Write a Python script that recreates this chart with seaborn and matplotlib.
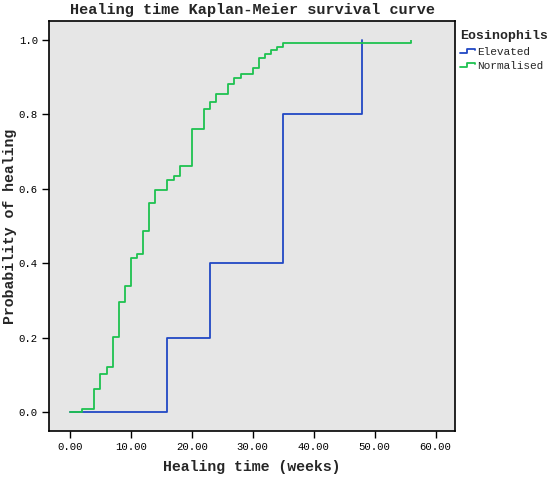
# Kaplan-Meier style cumulative healing curves by eosinophil group

import pandas as pd
import seaborn as sns
import matplotlib.pyplot as plt
from matplotlib.legend_handler import HandlerBase
from matplotlib.lines import Line2D

# --- data ---
elevated_time = [0, 16, 23, 35, 48]
elevated_prob = [0.0, 0.2, 0.4, 0.8, 1.0]

normalised_time = [0, 2, 4, 5, 6, 7, 8, 9, 10, 11, 12, 13, 14, 16, 17, 18,
                   20, 22, 23, 24, 26, 27, 28, 30, 31, 32, 33, 34, 35, 56]
normalised_prob = [0.0, 0.010, 0.064, 0.102, 0.121, 0.203, 0.295, 0.340,
                   0.413, 0.424, 0.486, 0.561, 0.596, 0.623, 0.634, 0.661,
                   0.761, 0.815, 0.834, 0.853, 0.880, 0.897, 0.907, 0.924,
                   0.952, 0.962, 0.971, 0.981, 0.990, 0.990]

# censored observation (tick mark) in the normalised group
censor_time = [56]
censor_prob = [0.990]

x_ticks = [0, 10, 20, 30, 40, 50, 60]
y_ticks = [0.0, 0.2, 0.4, 0.6, 0.8, 1.0]

groups = ['Elevated', 'Normalised']
colors = {'Elevated': '#2148c4', 'Normalised': '#1ec250'}


class StepHandler(HandlerBase):
    """Draw the legend key as a small step, like SPSS does."""
    def create_artists(self, legend, orig_handle, xdescent, ydescent,
                       width, height, fontsize, trans):
        x0 = -xdescent
        xs = [x0, x0 + width * 0.45, x0 + width * 0.45, x0 + width, x0 + width]
        ys = [height * 0.15, height * 0.15, height * 0.75, height * 0.75, height * 0.55]
        ys = [y - ydescent for y in ys]
        line = Line2D(xs, ys, color=orig_handle.get_color(), linewidth=1.3)
        line.set_transform(trans)
        return [line]


df = pd.concat([
    pd.DataFrame({'time': elevated_time, 'prob': elevated_prob, 'group': 'Elevated'}),
    pd.DataFrame({'time': normalised_time, 'prob': normalised_prob, 'group': 'Normalised'}),
])

sns.set_style("ticks")
plt.rcParams['font.family'] = ['Liberation Mono', 'DejaVu Sans Mono']

fig = plt.figure(figsize=(5.5, 4.8), dpi=100)
ax = fig.add_axes([49 / 550, 49 / 480, 406 / 550, 410 / 480])
ax.set_facecolor('#e6e6e6')

for g in groups:
    sub = df[df['group'] == g]
    sns.lineplot(data=sub, x='time', y='prob', drawstyle='steps-post',
                 color=colors[g], linewidth=1.3, label=g, ax=ax, sort=False)

ax.vlines(censor_time, censor_prob, [p + 0.01 for p in censor_prob],
          color=colors['Normalised'], linewidth=1.3)

ax.set_xlim(-3.45, 63.2)
ax.set_ylim(-0.05, 1.05)
ax.set_xticks(x_ticks)
ax.set_xticklabels([f'{v:.2f}' for v in x_ticks], fontsize=7.7)
ax.set_yticks(y_ticks)
ax.set_yticklabels([f'{v:.1f}' for v in y_ticks], fontsize=7.7)
ax.tick_params(direction='out', length=5, width=1, colors='black', pad=3)

for side in ax.spines.values():
    side.set_visible(True)
    side.set_color('black')
    side.set_linewidth(1.2)

ax.set_title('Healing time Kaplan-Meier survival curve', fontsize=11,
             fontweight='bold', pad=5)
ax.set_xlabel('Healing time (weeks)', fontsize=10.7, fontweight='bold', labelpad=6)
ax.set_ylabel('Probability of healing', fontsize=10.7, fontweight='bold')
ax.yaxis.set_label_coords(-0.078, 0.5)

ax.legend_.remove()
handles, labels = ax.get_legend_handles_labels()
leg = fig.legend(handles, labels, title='Eosinophils', loc='upper left',
                 bbox_to_anchor=(456 / 550, 1 - 26 / 480), frameon=False,
                 prop={'size': 8}, handlelength=1.3, handletextpad=0.2,
                 labelspacing=0.35, borderaxespad=0,
                 handler_map={Line2D: StepHandler()})
leg.get_title().set_fontsize(9.5)
leg.get_title().set_fontweight('bold')
leg._legend_box.align = 'left'
leg._legend_box.sep = 3

fig.savefig('out.png', dpi=100)
